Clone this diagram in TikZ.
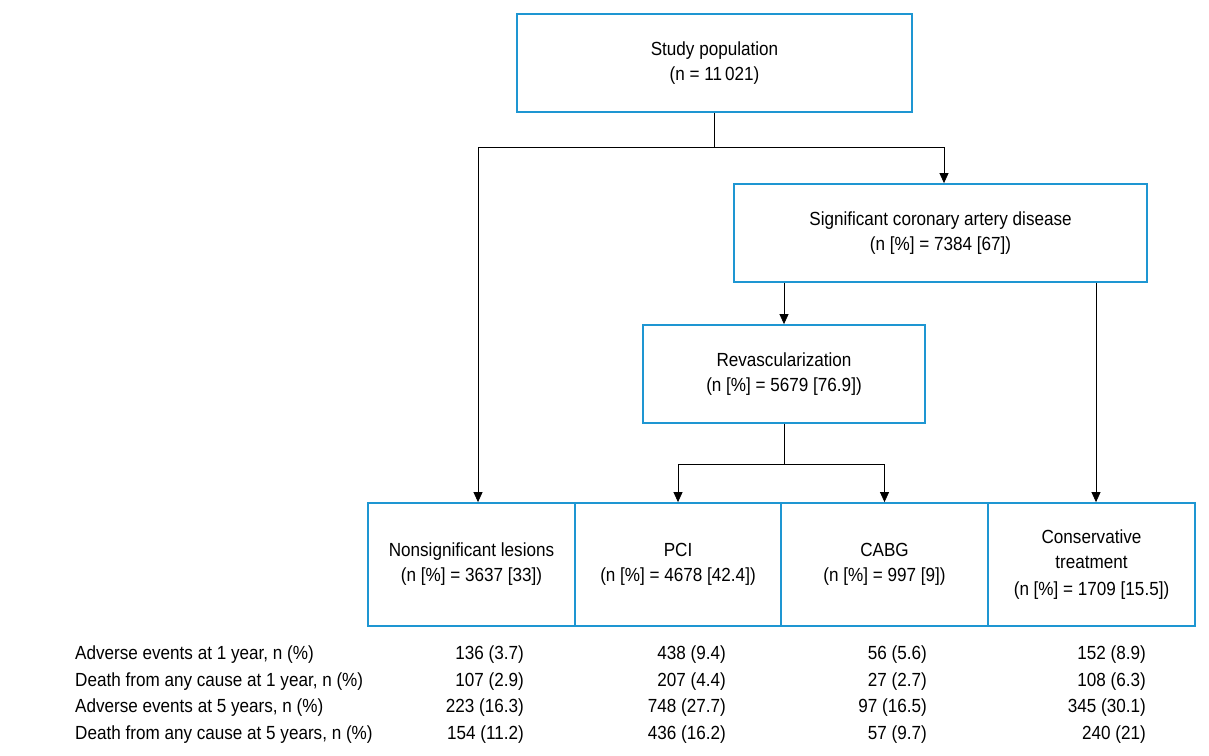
\documentclass[tikz,border=0pt]{standalone}
\usepackage{fontspec}
\setmainfont[FakeStretch=0.9]{Liberation Sans}
\usetikzlibrary{arrows.meta}
\definecolor{bx}{RGB}{30,150,210}
\begin{document}
\begin{tikzpicture}[x=1pt,y=-1pt,
  box/.style={draw=bx,line width=1.8pt,align=center,inner sep=0pt,font=\fontsize{19}{25}\selectfont},
  arr/.style={-{Triangle[length=10pt,width=9pt]},line width=0.8pt},
  ln/.style={line width=0.8pt},
  cell/.style={anchor=base east,inner sep=0pt,font=\fontsize{19}{20}\selectfont},
  lab/.style={anchor=base west,inner sep=0pt,font=\fontsize{19}{20}\selectfont}]
\useasboundingbox (0,0) rectangle (1209,755);
\node[box,minimum width=395pt,minimum height=98pt] (sp) at (714.5,63) {Study population\\(n = 11\,021)};
\node[box,minimum width=413pt,minimum height=98pt] (cad) at (940.5,233) {Significant coronary artery disease\\(n [\%] = 7384 [67])};
\node[box,minimum width=282pt,minimum height=98pt] (rev) at (784,374) {Revascularization\\(n [\%] = 5679 [76.9])};
\node[box,minimum width=207pt,minimum height=123pt] (ns) at (471.5,564.5) {Nonsignificant lesions\\(n [\%] = 3637 [33])};
\node[box,minimum width=206pt,minimum height=123pt] (pci) at (678,564.5) {PCI\\(n [\%] = 4678 [42.4])};
\node[box,minimum width=207pt,minimum height=123pt] (cabg) at (884.5,564.5) {CABG\\(n [\%] = 997 [9])};
\node[box,minimum width=207pt,minimum height=123pt] (con) at (1091.5,564.5) {Conservative\\treatment\\[2pt](n [\%] = 1709 [15.5])};
\coordinate (j1) at (714.5,147);
\coordinate (j2) at (784,464);
\draw[ln] (sp.south) -- (j1);
\draw[arr] (j1) -| ([xshift=6.5pt]ns.north);
\draw[arr] (j1) -| ([xshift=3.5pt]cad.north);
\draw[arr] (cad.south -| rev.north) -- (rev.north);
\draw[arr] ([xshift=4.5pt]cad.south -| con.north) -- ([xshift=4.5pt]con.north);
\draw[ln] (rev.south) -- (j2);
\draw[arr] (j2) -| (pci.north);
\draw[arr] (j2) -| (cabg.north);
\foreach \y/\t/\a/\b/\c/\d [count=\i] in {
 659/Adverse events at 1 year{,} n (\%)/136 (3.7)/438 (9.4)/56 (5.6)/152 (8.9),
 686/Death from any cause at 1 year{,} n (\%)/107 (2.9)/207 (4.4)/27 (2.7)/108 (6.3),
 712/Adverse events at 5 years{,} n (\%)/223 (16.3)/748 (27.7)/97 (16.5)/345 (30.1),
 739/Death from any cause at 5 years{,} n (\%)/154 (11.2)/436 (16.2)/57 (9.7)/240 (21)}{
 \node[lab] (l\i) at (75,\y) {\t};
 \node[cell] (a\i) at (524,\y) {\a};
 \node[cell] (b\i) at (726,\y) {\b};
 \node[cell] (c\i) at (927,\y) {\c};
 \node[cell] (d\i) at (1146,\y) {\d};
}
\end{tikzpicture}
\end{document}
